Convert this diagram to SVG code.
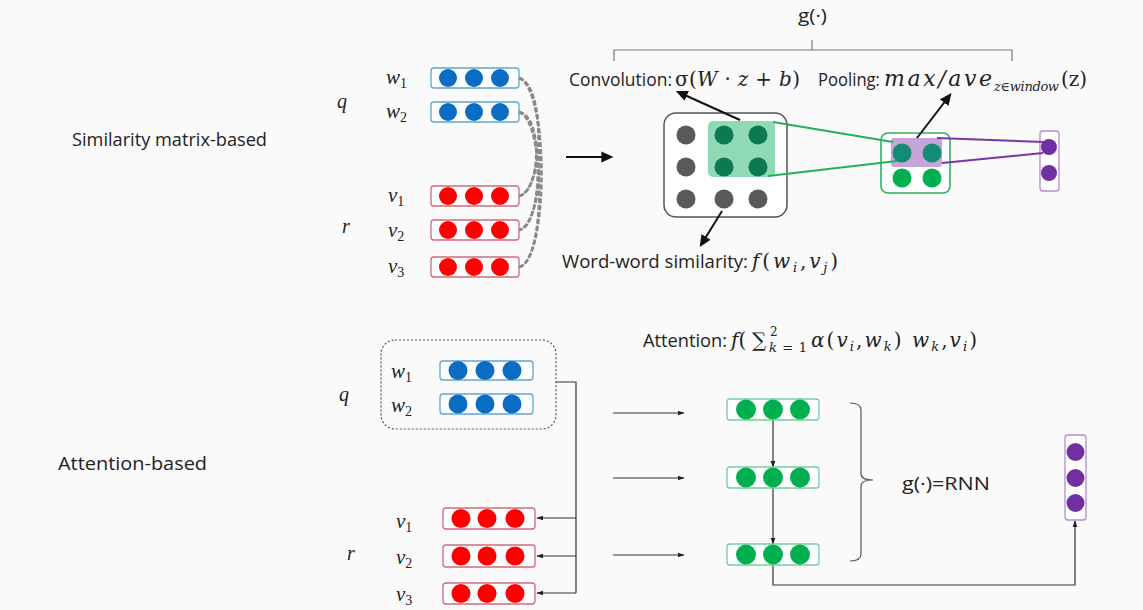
<svg xmlns="http://www.w3.org/2000/svg" width="1143" height="610" viewBox="0 0 1143 610">
<defs>
<marker id="ahs" viewBox="0 0 10 10" refX="9" refY="5" markerWidth="7" markerHeight="7" markerUnits="userSpaceOnUse" orient="auto"><path d="M0,1.5 L10,5 L0,8.5 z" fill="#222"/></marker>
<marker id="ahb" viewBox="0 0 10 10" refX="8" refY="5" markerWidth="12" markerHeight="12" markerUnits="userSpaceOnUse" orient="auto"><path d="M0,0.5 L10,5 L0,9.5 z" fill="#111"/></marker>
</defs>
<style>
.sans{font-family:"Open Sans","Liberation Sans",sans-serif;fill:#222;}
.m{font-family:"Liberation Serif","DejaVu Serif",serif;font-style:italic;fill:#222;}
.x{font-family:"DejaVu Serif","Liberation Serif",serif;font-style:italic;fill:#222;}
.xu{font-family:"DejaVu Serif","Liberation Serif",serif;fill:#222;}
.bbox{fill:#fff;stroke:#5ea6d4;stroke-width:1.3;}
.rbox{fill:#fff;stroke:#d2697a;stroke-width:1.3;}
.gbox{fill:#fff;stroke:#72cf9e;stroke-width:1.3;}
.pbox{fill:#fff;stroke:#b68ad6;stroke-width:1.3;}
.bl{fill:#0a6cc2;}
.rd{fill:#ff0000;}
.gr{fill:#00b050;}
.pu{fill:#7030a0;}
.gy{fill:#595959;}
.dg{fill:#0b7a4f;}
.tl{fill:#128c74;}
.conn{fill:none;stroke:#333;stroke-width:1.2;}
.dash{fill:none;stroke:#8a8a8a;stroke-width:2.6;stroke-dasharray:5 2;}
</style>
<rect width="1143" height="610" fill="#fafafa"/>

<text class="sans" x="72" y="146" font-size="18" textLength="195" lengthAdjust="spacingAndGlyphs">Similarity matrix-based</text>
<text class="sans" x="58" y="470" font-size="18" textLength="149" lengthAdjust="spacingAndGlyphs">Attention-based</text>

<g id="labels-top">
<text class="m" x="337" y="108" font-size="20">q</text>
<text class="m" x="386" y="84" font-size="21">w<tspan font-size="14" font-style="normal" dy="4">1</tspan></text>
<text class="m" x="386" y="118" font-size="21">w<tspan font-size="14" font-style="normal" dy="4">2</tspan></text>
<text class="m" x="342" y="233" font-size="20">r</text>
<text class="m" x="388" y="202" font-size="21">v<tspan font-size="14" font-style="normal" dy="4">1</tspan></text>
<text class="m" x="388" y="237" font-size="21">v<tspan font-size="14" font-style="normal" dy="4">2</tspan></text>
<text class="m" x="388" y="273" font-size="21">v<tspan font-size="14" font-style="normal" dy="4">3</tspan></text>
</g>

<g id="q-w1"><rect class="bbox" x="431" y="68" width="88" height="20" rx="3"/><circle class="bl" cx="448" cy="78" r="9"/><circle class="bl" cx="474" cy="78" r="9"/><circle class="bl" cx="500" cy="78" r="9"/></g>
<g id="q-w2"><rect class="bbox" x="431" y="102" width="88" height="20" rx="3"/><circle class="bl" cx="448" cy="112" r="9"/><circle class="bl" cx="474" cy="112" r="9"/><circle class="bl" cx="500" cy="112" r="9"/></g>
<g id="r-v1"><rect class="rbox" x="431" y="186" width="88" height="20" rx="3"/><circle class="rd" cx="448" cy="196" r="9"/><circle class="rd" cx="474" cy="196" r="9"/><circle class="rd" cx="500" cy="196" r="9"/></g>
<g id="r-v2"><rect class="rbox" x="431" y="220" width="88" height="20" rx="3"/><circle class="rd" cx="448" cy="230" r="9"/><circle class="rd" cx="474" cy="230" r="9"/><circle class="rd" cx="500" cy="230" r="9"/></g>
<g id="r-v3"><rect class="rbox" x="431" y="257" width="88" height="20" rx="3"/><circle class="rd" cx="448" cy="267" r="9"/><circle class="rd" cx="474" cy="267" r="9"/><circle class="rd" cx="500" cy="267" r="9"/></g>

<g id="matrix">
<rect x="664" y="113" width="123" height="104" rx="12" fill="#fff" stroke="#555" stroke-width="1.5"/>
<rect x="708" y="121" width="67" height="56" rx="5" fill="#8fd9b6"/>
<circle class="gy" cx="686" cy="135" r="9.5"/><circle class="dg" cx="724" cy="135" r="9.5"/><circle class="dg" cx="758" cy="135" r="9.5"/>
<circle class="gy" cx="686" cy="167" r="9.5"/><circle class="dg" cx="724" cy="167" r="9.5"/><circle class="dg" cx="758" cy="167" r="9.5"/>
<circle class="gy" cx="686" cy="199" r="9.5"/><circle class="gy" cx="724" cy="199" r="9.5"/><circle class="gy" cx="758" cy="199" r="9.5"/>
</g>

<g id="pooling">
<rect x="881" y="133" width="69" height="60" rx="7" fill="#fff" stroke="#2fb360" stroke-width="1.6"/>
<rect x="891" y="138" width="51" height="29" rx="3" fill="#c6a3d8"/>
<circle class="tl" cx="902" cy="153" r="9.5"/><circle class="tl" cx="932" cy="153" r="9.5"/>
<circle class="gr" cx="902" cy="178" r="9.5"/><circle class="gr" cx="932" cy="178" r="9.5"/>
</g>

<g id="output-top">
<rect class="pbox" x="1040" y="131" width="19" height="60" rx="3"/>
<circle class="pu" cx="1049" cy="147" r="8"/><circle class="pu" cx="1049" cy="173" r="8"/>
</g>

<g id="annotations-top">
<text class="sans" x="798" y="22" font-size="19" textLength="29" lengthAdjust="spacingAndGlyphs">g(·)</text>
<path d="M614,61 V50 H1012 V61 M812,50 V40" fill="none" stroke="#777" stroke-width="1.2"/>
<text class="sans" x="569" y="86" font-size="18" textLength="103" lengthAdjust="spacingAndGlyphs">Convolution:</text>
<text class="xu" x="675" y="86" font-size="20" textLength="125" lengthAdjust="spacing">σ(<tspan class="x">W</tspan> · <tspan class="x">z</tspan> + <tspan class="x">b</tspan>)</text>
<text class="sans" x="818" y="86" font-size="18" textLength="62" lengthAdjust="spacingAndGlyphs">Pooling:</text>
<text class="x" x="884" y="86" font-size="22" textLength="108" lengthAdjust="spacing">max/ave</text>
<text class="x" x="994" y="91" font-size="13" textLength="65" lengthAdjust="spacing">z∈window</text>
<text class="xu" x="1061" y="86" font-size="20" textLength="26" lengthAdjust="spacing">(z)</text>
<text class="sans" x="562" y="268" font-size="18" textLength="186" lengthAdjust="spacingAndGlyphs">Word-word similarity:</text>
<text class="x" x="752" y="268" font-size="20" textLength="86" lengthAdjust="spacing">f<tspan font-style="normal">(</tspan>w<tspan font-size="13" dy="4">i</tspan><tspan font-style="normal" dy="-4">,</tspan>v<tspan font-size="13" dy="4">j</tspan><tspan font-style="normal" dy="-4">)</tspan></text>
</g>

<g id="connectors">
<path class="dash" d="M519,78 C545,84 545,190 519,196"/>
<path class="dash" d="M519,78 C547,86 547,224 519,230"/>
<path class="dash" d="M519,78 C549,88 549,261 519,267"/>
<path class="dash" d="M519,112 C543,116 541,192 519,196"/>
<path class="dash" d="M519,112 C544,118 544,226 519,230"/>
<path class="dash" d="M519,112 C546,120 546,262 519,267"/>
<path d="M566,157 H611" fill="none" stroke="#111" stroke-width="1.8" marker-end="url(#ahb)"/>
<path d="M740,120 L678,92" fill="none" stroke="#111" stroke-width="2" marker-end="url(#ahb)"/>
<path d="M917,138 L950,95" fill="none" stroke="#111" stroke-width="2" marker-end="url(#ahb)"/>
<path d="M722,211 L701,245" fill="none" stroke="#111" stroke-width="2" marker-end="url(#ahb)"/>
<path d="M773,122 L893,142 M768,176 L897,161" fill="none" stroke="#22b35a" stroke-width="2"/>
<path d="M937,138 L1043,142 M942,163 L1043,153" fill="none" stroke="#7a35a8" stroke-width="2"/>

<path class="conn" d="M556,382 H576 V593"/>
<path class="conn" d="M576,518 H537" marker-end="url(#ahs)"/>
<path class="conn" d="M576,556 H537" marker-end="url(#ahs)"/>
<path class="conn" d="M576,593 H537" marker-end="url(#ahs)"/>
<path class="conn" d="M613,413 H684" marker-end="url(#ahs)"/>
<path class="conn" d="M613,478 H684" marker-end="url(#ahs)"/>
<path class="conn" d="M613,555 H684" marker-end="url(#ahs)"/>
<path class="conn" d="M773,420 V467" marker-end="url(#ahs)"/>
<path class="conn" d="M773,488 V544" marker-end="url(#ahs)"/>
<path class="conn" d="M773,565 V585 H1075 V521" marker-end="url(#ahs)"/>
</g>

<g id="q-group">
<rect x="381" y="340" width="175" height="89" rx="14" fill="none" stroke="#555" stroke-width="1.2" stroke-dasharray="2 2"/>
<text class="m" x="391" y="378" font-size="21">w<tspan font-size="14" font-style="normal" dy="4">1</tspan></text>
<text class="m" x="391" y="412" font-size="21">w<tspan font-size="14" font-style="normal" dy="4">2</tspan></text>
</g>
<text class="m" x="339" y="401" font-size="20">q</text>
<text class="m" x="347" y="560" font-size="20">r</text>
<text class="m" x="396" y="528" font-size="21">v<tspan font-size="14" font-style="normal" dy="4">1</tspan></text>
<text class="m" x="396" y="564" font-size="21">v<tspan font-size="14" font-style="normal" dy="4">2</tspan></text>
<text class="m" x="396" y="601" font-size="21">v<tspan font-size="14" font-style="normal" dy="4">3</tspan></text>

<g id="b-w1"><rect class="bbox" x="440" y="361" width="93" height="19" rx="3"/><circle class="bl" cx="458" cy="370.5" r="9.5"/><circle class="bl" cx="485" cy="370.5" r="9.5"/><circle class="bl" cx="512" cy="370.5" r="9.5"/></g>
<g id="b-w2"><rect class="bbox" x="440" y="394" width="93" height="20" rx="3"/><circle class="bl" cx="458" cy="404" r="9.5"/><circle class="bl" cx="485" cy="404" r="9.5"/><circle class="bl" cx="512" cy="404" r="9.5"/></g>
<g id="b-v1"><rect class="rbox" x="443" y="508" width="92" height="21" rx="3"/><circle class="rd" cx="461" cy="518.5" r="9.5"/><circle class="rd" cx="487" cy="518.5" r="9.5"/><circle class="rd" cx="515" cy="518.5" r="9.5"/></g>
<g id="b-v2"><rect class="rbox" x="443" y="545" width="92" height="22" rx="3"/><circle class="rd" cx="461" cy="556" r="9.5"/><circle class="rd" cx="487" cy="556" r="9.5"/><circle class="rd" cx="515" cy="556" r="9.5"/></g>
<g id="b-v3"><rect class="rbox" x="443" y="583" width="92" height="21" rx="3"/><circle class="rd" cx="461" cy="593.5" r="9.5"/><circle class="rd" cx="487" cy="593.5" r="9.5"/><circle class="rd" cx="515" cy="593.5" r="9.5"/></g>

<g id="h1"><rect class="gbox" x="727" y="399" width="92" height="21" rx="3"/><circle class="gr" cx="746" cy="409.5" r="10"/><circle class="gr" cx="773" cy="409.5" r="10"/><circle class="gr" cx="800" cy="409.5" r="10"/></g>
<g id="h2"><rect class="gbox" x="727" y="467" width="92" height="21" rx="3"/><circle class="gr" cx="746" cy="477.5" r="10"/><circle class="gr" cx="773" cy="477.5" r="10"/><circle class="gr" cx="800" cy="477.5" r="10"/></g>
<g id="h3"><rect class="gbox" x="727" y="544" width="92" height="21" rx="3"/><circle class="gr" cx="746" cy="554.5" r="10"/><circle class="gr" cx="773" cy="554.5" r="10"/><circle class="gr" cx="800" cy="554.5" r="10"/></g>

<g id="rnn-brace">
<path d="M850,403 Q861,403 861,410 V474 Q861,480 873,480 Q861,480 861,486 V554 Q861,561 850,561" fill="none" stroke="#555" stroke-width="1.2"/>
<text class="sans" x="902" y="490" font-size="19" textLength="88" lengthAdjust="spacingAndGlyphs">g(·)=RNN</text>
</g>

<g id="output-bottom">
<rect class="pbox" x="1065" y="435" width="21" height="85" rx="3"/>
<circle class="pu" cx="1075.5" cy="452" r="9"/><circle class="pu" cx="1075.5" cy="478" r="9"/><circle class="pu" cx="1075.5" cy="503" r="9"/>
</g>

<g id="attention-label">
<text class="sans" x="643" y="347" font-size="18" textLength="84" lengthAdjust="spacingAndGlyphs">Attention:</text>
<text class="x" x="731" y="347" font-size="20">f<tspan font-style="normal">(</tspan></text>
<text class="xu" x="752" y="347" font-size="20">∑</text>
<text class="xu" x="770" y="336" font-size="12">2</text>
<text class="x" x="769" y="352" font-size="13" textLength="38" lengthAdjust="spacing">k<tspan font-style="normal">=1</tspan></text>
<text class="x" x="811" y="347" font-size="20" textLength="166" lengthAdjust="spacing">α<tspan font-style="normal">(</tspan>v<tspan font-size="13" dy="4">i</tspan><tspan font-style="normal" dy="-4">,</tspan>w<tspan font-size="13" dy="4">k</tspan><tspan font-style="normal" dy="-4">) </tspan>w<tspan font-size="13" dy="4">k</tspan><tspan font-style="normal" dy="-4">,</tspan>v<tspan font-size="13" dy="4">i</tspan><tspan font-style="normal" dy="-4">)</tspan></text>
</g>
</svg>
